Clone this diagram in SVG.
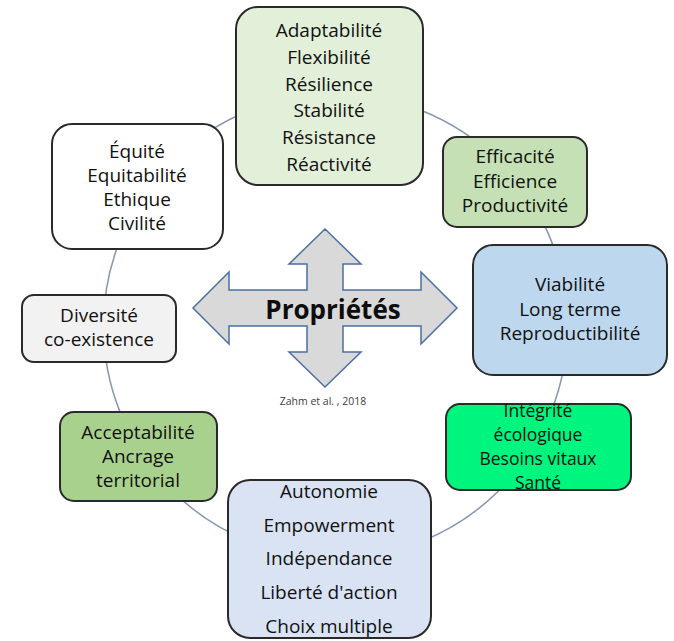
<svg xmlns="http://www.w3.org/2000/svg" width="674" height="641" viewBox="0 0 674 641">
  <style>
    .box { stroke: #2a2a2a; stroke-width: 2; }
    .t { font-family: "Open Sans", "Noto Sans", sans-serif; font-size: 19px; fill: #111111; text-anchor: middle; }
    .tight { font-size: 17.5px; }
    .ring { fill: none; stroke: #8496b0; stroke-width: 1.5; }
    .cross { fill: #d9d9d9; stroke: #4a6fa5; stroke-width: 1.5; stroke-linejoin: miter; }
    .title { font-family: "Open Sans", "Noto Sans", sans-serif; font-size: 26px; font-weight: bold; fill: #0d0d0d; text-anchor: middle; }
    .cite { font-family: "Open Sans", "Noto Sans", sans-serif; font-size: 10.5px; fill: #404040; text-anchor: middle; }
  </style>
  <rect width="674" height="641" fill="#ffffff"/>

  <!-- ring linking the properties -->
  <g id="connectors">
    <circle class="ring" cx="335.5" cy="326" r="232"/>
  </g>

  <!-- central four-way arrow -->
  <g id="center">
    <polygon class="cross" points="325,229 361,264 343,264 343,290 421,290 421,272 457,308 421,344 421,326 343,326 343,352 361,352 325,387 289,352 307,352 307,326 229,326 229,344 193,308 229,272 229,290 307,290 307,264 289,264"/>
    <text class="title" x="333" y="319">Propriétés</text>
    <text class="cite" x="323" y="405">Zahm et al. , 2018</text>
  </g>

  <g id="adaptabilite">
    <rect class="box" x="236" y="7" width="187" height="178" rx="22" fill="#e2efd9"/>
    <text class="t" x="329" y="37">Adaptabilité</text>
    <text class="t" x="329" y="64">Flexibilité</text>
    <text class="t" x="329" y="91">Résilience</text>
    <text class="t" x="329" y="117">Stabilité</text>
    <text class="t" x="329" y="144">Résistance</text>
    <text class="t" x="329" y="171">Réactivité</text>
  </g>

  <g id="efficacite">
    <rect class="box" x="443" y="137" width="144" height="90" rx="14" fill="#c5e0b4"/>
    <text class="t" x="515" y="163">Efficacité</text>
    <text class="t" x="515" y="188">Efficience</text>
    <text class="t" x="515" y="212">Productivité</text>
  </g>

  <g id="viabilite">
    <rect class="box" x="473" y="245" width="194" height="130" rx="20" fill="#bdd7ee"/>
    <text class="t" x="570" y="291">Viabilité</text>
    <text class="t" x="570" y="316">Long terme</text>
    <text class="t" x="570" y="340">Reproductibilité</text>
  </g>

  <g id="integrite">
    <rect class="box" x="446" y="404" width="185" height="86" rx="14" fill="#00f57f"/>
    <text class="t tight" x="538" y="417">Intégrité</text>
    <text class="t tight" x="538" y="441">écologique</text>
    <text class="t tight" x="538" y="465">Besoins vitaux</text>
    <text class="t tight" x="538" y="489">Santé</text>
  </g>

  <g id="autonomie">
    <rect class="box" x="228" y="480" width="203" height="158" rx="22" fill="#dae3f3"/>
    <text class="t" x="329" y="498">Autonomie</text>
    <text class="t" x="329" y="532">Empowerment</text>
    <text class="t" x="329" y="565">Indépendance</text>
    <text class="t" x="329" y="599">Liberté d'action</text>
    <text class="t" x="329" y="633">Choix multiple</text>
  </g>

  <g id="acceptabilite">
    <rect class="box" x="60" y="412" width="157" height="89" rx="14" fill="#a9d18e"/>
    <text class="t" x="138" y="439">Acceptabilité</text>
    <text class="t" x="138" y="463">Ancrage</text>
    <text class="t" x="138" y="487">territorial</text>
  </g>

  <g id="diversite">
    <rect class="box" x="22" y="295" width="154" height="67" rx="12" fill="#f2f2f2"/>
    <text class="t" x="99" y="322">Diversité</text>
    <text class="t" x="99" y="346">co-existence</text>
  </g>

  <g id="equite">
    <rect class="box" x="52" y="124" width="171" height="125" rx="20" fill="#ffffff"/>
    <text class="t" x="137" y="158">Équité</text>
    <text class="t" x="137" y="182">Equitabilité</text>
    <text class="t" x="137" y="206">Ethique</text>
    <text class="t" x="137" y="230">Civilité</text>
  </g>
</svg>
